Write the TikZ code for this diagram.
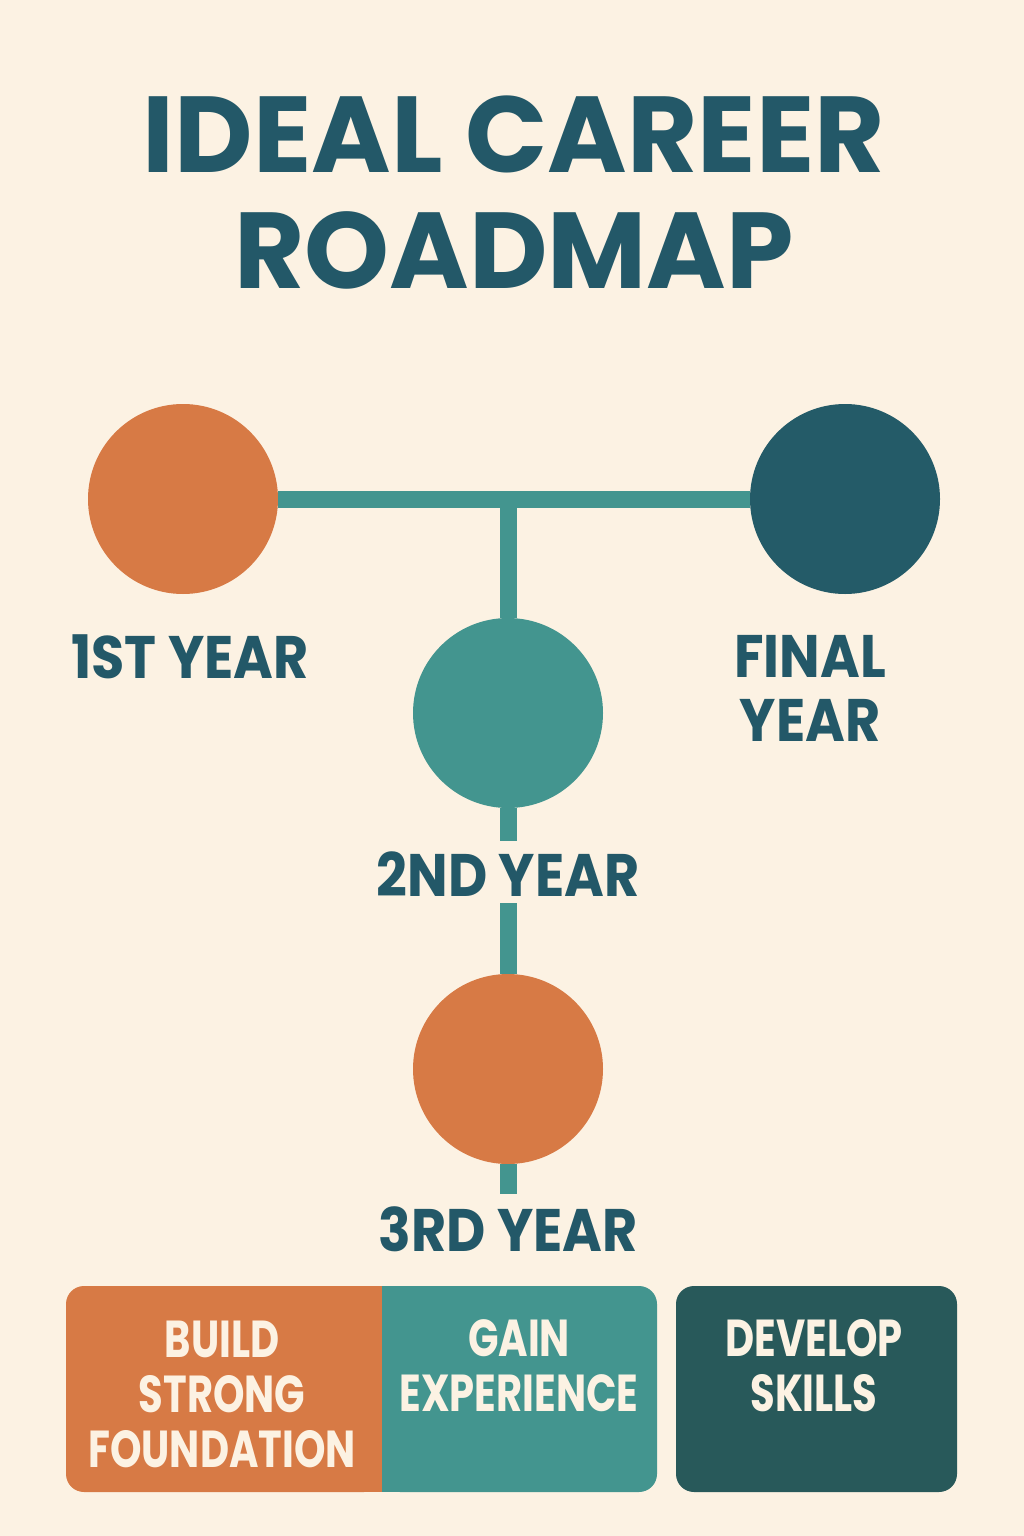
\documentclass[tikz,border=0pt]{standalone}
\usepackage{fontspec}
\setmainfont{Poppins}
\newfontfamily\labelfont{Poppins}[FakeStretch=0.9]
\newfontfamily\panelfont{Poppins}[FakeStretch=0.77]
\usetikzlibrary{positioning}
\definecolor{cream}{HTML}{FCF2E3}
\definecolor{rust}{HTML}{D77A45}
\definecolor{roadteal}{HTML}{43958F}
\definecolor{deepteal}{HTML}{245B68}
\definecolor{pine}{HTML}{28595A}
\definecolor{ink}{HTML}{235868}

\begin{document}
\begin{tikzpicture}[x=1pt, y=-1pt,
		year/.style={circle, minimum size=190pt, inner sep=0pt},
		yearlabel/.style={text=ink, font=\labelfont\bfseries\fontsize{60}{64}\selectfont, align=center, inner sep=0pt},
		link/.style={draw=roadteal, line width=17pt},
		panel/.style={rounded corners=18pt},
		boxtext/.style={text=cream, font=\panelfont\bfseries\fontsize{52}{55}\selectfont, align=center, inner sep=0pt}]
		\useasboundingbox (0,0) rectangle (1024,1536);
		\fill[cream] (0,0) rectangle (1024,1536);

		% title
		\node[text=ink, font=\bfseries\fontsize{108}{116}\selectfont, align=center, inner sep=0pt] (title) at (514,193) {IDEAL CAREER\\ROADMAP};

		% year circles
		\node (c1) at (183,499) [year, fill=rust] {};
		\node (c2) at (508,713) [year, fill=roadteal] {};
		\node (c3) at (508,1069) [year, fill=rust] {};
		\node (c4) at (845,499) [year, fill=deepteal] {};

		% connectors
		\coordinate (t) at (508,499);
		\coordinate (g1) at (508,841);
		\coordinate (g2) at (508,903);
		\coordinate (g3) at (508,1194);
		\draw[link] (c1.east) -- (c4.west);
		\draw[link] (t) -- (c2.north);
		\draw[link] (c2.south) -- (g1);
		\draw[link] (g2) -- (c3.north);
		\draw[link] (c3.south) -- (g3);

		% year labels
		\node (l1) at (190,657) [yearlabel] {1ST YEAR};
		\node (l2) at (508,874) [yearlabel] {2ND YEAR};
		\node (l3) at (508,1229) [yearlabel] {3RD YEAR};
		\node (l4) at (810,688) [yearlabel] {FINAL\\YEAR};

		% bottom panels
		\fill[panel, rust] (66,1286) rectangle (382,1492);
		\fill[rust] (340,1286) rectangle (382,1492);
		\fill[panel, roadteal] (382,1286) rectangle (657,1492);
		\fill[roadteal] (382,1286) rectangle (420,1492);
		\fill[panel, pine] (676,1286) rectangle (957,1492);

		\node (b1) at (222,1394) [boxtext] {BUILD\\STRONG\\FOUNDATION};
		\node (b2) at (519,1366) [boxtext] {GAIN\\EXPERIENCE};
		\node (b3) at (814,1366) [boxtext] {DEVELOP\\SKILLS};
	\end{tikzpicture}
\end{document}
